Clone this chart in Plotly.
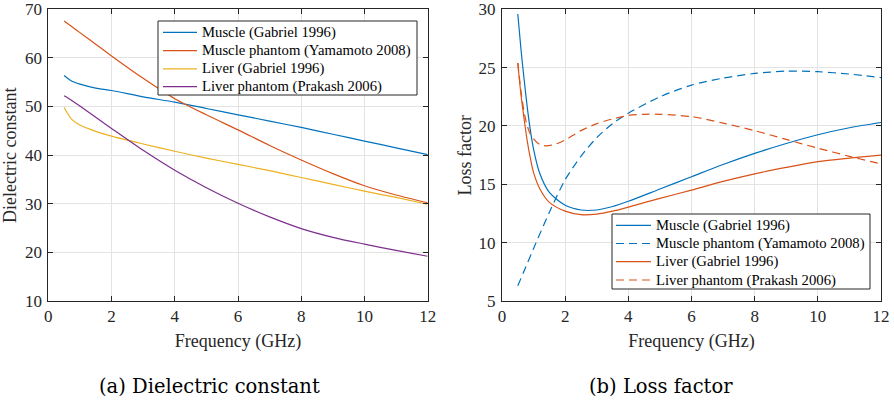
import plotly.graph_objects as go

# ---------------- data: (a) Dielectric constant ----------------
freq_a = [0.5, 0.75, 1, 1.5, 2, 3, 4, 5, 6, 7, 8, 9, 10, 11, 12]
muscle_eps = [56.4, 55.2, 54.6, 53.8, 53.3, 52.0, 50.9, 49.6, 48.3, 47.0, 45.7, 44.3, 42.9, 41.5, 40.1]
muscle_ph_eps = [67.6, 66.4, 65.2, 62.8, 60.4, 55.8, 51.6, 48.3, 45.2, 42.0, 39.0, 36.2, 33.7, 31.8, 30.2]
liver_eps = [49.8, 47.3, 46.2, 44.9, 43.9, 42.3, 40.8, 39.4, 38.1, 36.8, 35.4, 34.0, 32.6, 31.3, 29.9]
liver_ph_eps = [52.2, 51.2, 50.1, 47.8, 45.5, 41.0, 36.9, 33.3, 30.1, 27.3, 24.9, 23.1, 21.7, 20.4, 19.2]

# ---------------- data: (b) Loss factor ----------------
freq_b = [0.5, 0.6, 0.7, 0.8, 0.9, 1.0, 1.2, 1.5, 2, 2.5, 3, 3.5, 4, 5, 6, 7, 8, 9, 10, 11, 12]
muscle_loss = [29.6, 26.6, 24.0, 21.6, 19.6, 18.0, 15.9, 14.3, 13.2, 12.8, 12.8, 13.1, 13.55, 14.6, 15.65, 16.7, 17.65, 18.5, 19.25, 19.85, 20.3]
liver_loss = [25.4, 22.7, 20.6, 18.7, 17.2, 16.0, 14.6, 13.45, 12.7, 12.4, 12.45, 12.7, 13.05, 13.8, 14.5, 15.25, 15.9, 16.45, 16.95, 17.25, 17.5]

freq_b_mph = [0.5, 0.75, 1, 1.5, 2, 2.5, 3, 3.5, 4, 5, 6, 7, 8, 9, 10, 11, 12]
muscle_ph_loss = [6.3, 7.9, 9.5, 12.6, 15.4, 17.4, 19.0, 20.2, 21.1, 22.5, 23.5, 24.1, 24.5, 24.7, 24.65, 24.45, 24.15]

freq_b_lph = [0.5, 0.6, 0.7, 0.8, 0.9, 1.0, 1.2, 1.4, 1.7, 2, 2.5, 3, 3.5, 4, 4.5, 5, 6, 7, 8, 9, 10, 11, 12]
liver_ph_loss = [25.4, 23.0, 21.2, 20.0, 19.3, 18.9, 18.4, 18.3, 18.45, 18.8, 19.6, 20.2, 20.6, 20.9, 21.0, 21.0, 20.8, 20.25, 19.6, 18.85, 18.1, 17.4, 16.75]

names_a = ["Muscle (Gabriel 1996)", "Muscle phantom (Yamamoto 2008)",
           "Liver (Gabriel 1996)", "Liver phantom (Prakash 2006)"]
names_b = ["Muscle (Gabriel 1996)", "Muscle phantom (Yamamoto 2008)",
           "Liver (Gabriel 1996)", "Liver phantom (Prakash 2006)"]
captions = ["(a) Dielectric constant", "(b) Loss factor"]

BLUE, ORANGE, YELLOW, PURPLE = "#0072BD", "#D95319", "#EDB120", "#7E2F8E"
FONT = "Liberation Serif"
CAPFONT = "DejaVu Serif"
AX = "#262626"
DASH = "8px,5px"

W, H = 894, 400
def px_x(p): return p / W
def px_y(p): return 1 - p / H

fig = go.Figure()

def add(x, y, name, color, xa, ya, dash="solid"):
    fig.add_trace(go.Scatter(x=x, y=y, name=name, mode="lines", showlegend=False,
                             line=dict(color=color, width=1.2, dash=dash, shape="spline", smoothing=0.8),
                             xaxis=xa, yaxis=ya))

styles_a = [(BLUE, "solid"), (ORANGE, "solid"), (YELLOW, "solid"), (PURPLE, "solid")]
styles_b = [(BLUE, "solid"), (BLUE, DASH), (ORANGE, "solid"), (ORANGE, DASH)]

add(freq_a, muscle_eps, names_a[0], BLUE, "x", "y")
add(freq_a, muscle_ph_eps, names_a[1], ORANGE, "x", "y")
add(freq_a, liver_eps, names_a[2], YELLOW, "x", "y")
add(freq_a, liver_ph_eps, names_a[3], PURPLE, "x", "y")

add(freq_b, muscle_loss, names_b[0], BLUE, "x2", "y2")
add(freq_b_mph, muscle_ph_loss, names_b[1], BLUE, "x2", "y2", dash=DASH)
add(freq_b, liver_loss, names_b[2], ORANGE, "x2", "y2")
add(freq_b_lph, liver_ph_loss, names_b[3], ORANGE, "x2", "y2", dash=DASH)

axis_common = dict(showline=True, linecolor=AX, linewidth=1, mirror="ticks",
                   ticks="inside", ticklen=5, tickcolor=AX, showgrid=True,
                   gridcolor="#e3e3e3", gridwidth=1, zeroline=False, automargin=False,
                   tickfont=dict(family=FONT, size=17, color=AX))
title_font = dict(family=FONT, size=18, color=AX)

fig.update_layout(
    width=W, height=H, margin=dict(l=0, r=0, t=0, b=0),
    paper_bgcolor="white", plot_bgcolor="white",
    font=dict(family=FONT),
    xaxis=dict(domain=[px_x(48.3), px_x(427.7)], range=[0, 12], dtick=2, anchor="y",
               ticklabelstandoff=0,
               title=dict(text="Frequency (GHz)", font=title_font, standoff=8), **axis_common),
    yaxis=dict(domain=[px_y(301), px_y(9.3)], range=[10, 70], dtick=10, anchor="x",
               ticklabelstandoff=2,
               title=dict(text="Dielectric constant", font=title_font, standoff=4), **axis_common),
    xaxis2=dict(domain=[px_x(502), px_x(881)], range=[0, 12], dtick=2, anchor="y2",
                ticklabelstandoff=0,
                title=dict(text="Frequency (GHz)", font=title_font, standoff=8), **axis_common),
    yaxis2=dict(domain=[px_y(301), px_y(9.3)], range=[5, 30], dtick=5, anchor="x2",
                ticklabelstandoff=2,
                title=dict(text="Loss factor", font=title_font, standoff=2), **axis_common),
    showlegend=False,
)

# ---- legends drawn as boxed keys (box, line samples, real text) ----
def draw_legend(box, sample_x, text_x, rows_y, names, styles):
    x0, y0, x1, y1 = box
    fig.add_shape(type="rect", xref="paper", yref="paper",
                  x0=px_x(x0), x1=px_x(x1), y0=px_y(y1), y1=px_y(y0),
                  line=dict(color=AX, width=1), fillcolor="white", layer="above")
    for yy, name, (color, dash) in zip(rows_y, names, styles):
        fig.add_shape(type="line", xref="paper", yref="paper",
                      x0=px_x(sample_x[0]), x1=px_x(sample_x[1]), y0=px_y(yy), y1=px_y(yy),
                      line=dict(color=color, width=1.2, dash=dash), layer="above")
        fig.add_annotation(text=name, x=px_x(text_x), y=px_y(yy), xref="paper", yref="paper",
                           xanchor="left", yanchor="middle", showarrow=False,
                           font=dict(family=FONT, size=14.7, color="black"))

draw_legend((158, 21, 417, 95), (163, 197), 199.5, [32.3, 50.7, 68.8, 86.7], names_a, styles_a)
draw_legend((612, 214, 870, 289), (616, 651), 653.5, [225.3, 243.5, 261.7, 280], names_b, styles_b)

fig.add_annotation(text=captions[0], x=px_x(209), y=px_y(386), xref="paper", yref="paper",
                   xanchor="center", yanchor="middle", showarrow=False,
                   font=dict(family=CAPFONT, size=19.5, color="black"))
fig.add_annotation(text=captions[1], x=px_x(661), y=px_y(386), xref="paper", yref="paper",
                   xanchor="center", yanchor="middle", showarrow=False,
                   font=dict(family=CAPFONT, size=19.5, color="black"))

fig.write_html("out.html", config={"displayModeBar": False, "staticPlot": True})

# remove the browser's default page margin so the figure sits at the window's corner
with open("out.html", "r", encoding="utf-8") as fh:
    html = fh.read()
html = html.replace("<body>", '<body style="margin:0;padding:0;">', 1)
html = html.replace("<head>", '<head><style>html,body{margin:0;padding:0;overflow:hidden;}</style>', 1)
with open("out.html", "w", encoding="utf-8") as fh:
    fh.write(html)
